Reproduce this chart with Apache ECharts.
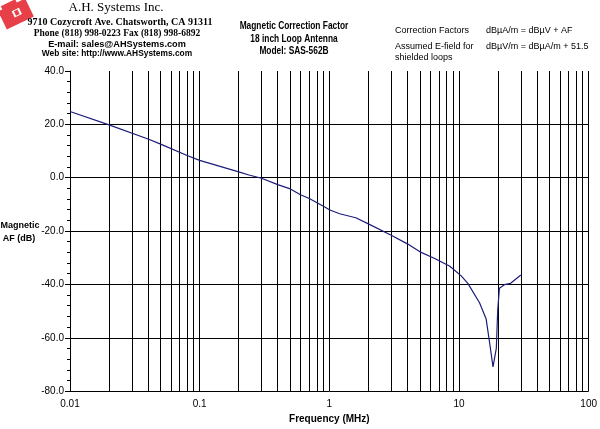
<!DOCTYPE html>
<html><head><meta charset="utf-8">
<script src="https://cdn.jsdelivr.net/npm/echarts@6/dist/echarts.min.js"></script>
<style>html,body{margin:0;padding:0;background:#fff}#c{width:600px;height:429px}</style>
</head><body><div id="c"></div>
<script>
var freqs = [0.01, 0.02, 0.04, 0.05, 0.08, 0.1, 0.2, 0.24, 0.3, 0.4, 0.5, 0.6, 0.7, 0.93, 1, 1.2, 1.6, 2, 3, 4, 5, 6.5, 8.5, 10.4, 11.7, 14.4, 16.2, 17.2, 18.3, 18.8, 19.4, 19.9, 20.5, 22.4, 25, 30];
var afValues = [24.8, 19.8, 14.5, 12.6, 8.3, 6.5, 2.2, 1.0, -0.2, -2.6, -4.2, -6.4, -7.8, -11.1, -12.0, -13.5, -15.0, -17.3, -21.6, -24.8, -27.8, -30.3, -33.2, -36.8, -39.6, -46.9, -53.0, -61.7, -70.9, -71.5, -64.0, -49.4, -41.4, -40.1, -39.6, -36.5];
var gridFreqs = [0.02,0.03,0.04,0.05,0.06,0.07,0.08,0.09,0.1,0.2,0.3,0.4,0.5,0.6,0.7,0.8,0.9,1,2,3,4,5,6,7,8,9,10,20,30,40,50,60,70,80,90,100];
var xTickLabels = ['0.01','0.1','1','10','100'];
var yTickValues = [-80,-60,-40,-20,0,20,40];
var headerLines = ['A.H. Systems Inc.','9710 Cozycroft Ave. Chatsworth, CA 91311','Phone (818) 998-0223 Fax (818) 998-6892','E-mail: sales@AHSystems.com','Web site: http://www.AHSystems.com'];
var titleLines = ['Magnetic Correction Factor','18 inch Loop Antenna','Model: SAS-562B'];

var chart = echarts.init(document.getElementById('c'), null, {renderer:'canvas'});
var serif = '"Liberation Serif", "Times New Roman", serif';
var sans = '"Liberation Sans", Arial, sans-serif';
var pts = freqs.map(function(f,i){return [f, afValues[i]];});
function t(text, left, top, align, family, size, weight){
  return {text:text, left:left, top:top, textAlign:align, padding:0,
    textStyle:{fontFamily:family, fontSize:size, fontWeight:weight, color:'#000'}};
}
function gt(text, x, y){
  return {type:'text', x:x, y:y, scaleX:0.76, silent:true,
    style:{text:text, fill:'#000', font:'bold 11px "Liberation Sans", Arial, sans-serif', textAlign:'center', textVerticalAlign:'middle'}};
}

chart.setOption({
  animation:false,
  backgroundColor:'#fff',
  grid:{left:70, right:9, top:71, bottom:32},
  title:[
    t(headerLines[0], 116, 1, 'center', serif, 13, 'normal'),
    t(headerLines[1], 120, 17, 'center', serif, 10, 'bold'),
    t(headerLines[2], 117, 29, 'center', serif, 9.5, 'bold'),
    t(headerLines[3], 117, 40, 'center', sans, 9.2, 'bold'),
    t(headerLines[4], 117, 50, 'center', sans, 8.4, 'bold'),
    t('Correction Factors', 395, 26, 'left', sans, 9, 'normal'),
    t('dBµA/m = dBµV + AF', 486, 26, 'left', sans, 9, 'normal'),
    t('Assumed E-field for', 395, 42, 'left', sans, 9, 'normal'),
    t('shielded loops', 395, 53, 'left', sans, 9, 'normal'),
    t('dBµV/m = dBµA/m + 51.5', 486, 42, 'left', sans, 9, 'normal'),
    t('Magnetic', 20, 221, 'center', sans, 9, 'bold'),
    t('AF (dB)', 19, 234, 'center', sans, 9, 'bold')
  ],
  graphic:[
    {type:'rect', x:16, y:14, rotation:Math.PI/7, shape:{x:-15, y:-10, width:30, height:20}, style:{fill:'#e84048'}},
    {type:'rect', x:11, y:9, rotation:Math.PI/7, shape:{x:-8, y:-7, width:16, height:12}, style:{fill:'#e84048'}},
    {type:'rect', x:17, y:13, rotation:Math.PI/7, shape:{x:-4, y:-4, width:8, height:7}, style:{fill:'#fff'}},
    {type:'rect', x:17, y:13, rotation:Math.PI/7, shape:{x:-2, y:-3, width:4, height:5}, style:{fill:'#e84048'}},
    gt(titleLines[0], 294, 26),
    gt(titleLines[1], 294, 38.5),
    gt(titleLines[2], 294, 51)
  ],
  xAxis:{
    type:'log', logBase:10, min:0.01, max:100,
    name:'Frequency (MHz)', nameLocation:'middle', nameGap:20,
    nameTextStyle:{fontFamily:sans, fontSize:10, fontWeight:'bold', color:'#000'},
    axisLine:{show:true, lineStyle:{color:'#000', width:1}},
    axisTick:{show:false},
    splitLine:{show:false},
    axisLabel:{fontFamily:sans, fontSize:10, color:'#000', margin:8,
      formatter:function(v){var k=Math.round(Math.log10(v))+2; return xTickLabels[k]||'';}}
  },
  yAxis:{
    type:'value', min:yTickValues[0], max:yTickValues[yTickValues.length-1], interval:20,
    axisLine:{show:true, lineStyle:{color:'#000', width:1}},
    axisTick:{show:true, length:5, lineStyle:{color:'#000'}},
    minorTick:{show:true, splitNumber:5, length:3, lineStyle:{color:'#000'}},
    splitLine:{show:true, showMaxLine:false, lineStyle:{color:'#000', width:1}},
    axisLabel:{fontFamily:sans, fontSize:10, color:'#000', margin:6,
      formatter:function(v){return v.toFixed(1);}}
  },
  series:[
    {type:'line', data:[], z:1, silent:true,
     markLine:{silent:true, symbol:['none','none'], animation:false, label:{show:false},
       lineStyle:{color:'#000', type:'solid', width:1},
       data:gridFreqs.map(function(f){return {xAxis:f};})}},
    {type:'line', data:pts, z:5, showSymbol:false, symbol:'none', smooth:false,
     lineStyle:{color:'#1c1c7a', width:1.2}}
  ]
});
</script></body></html>
